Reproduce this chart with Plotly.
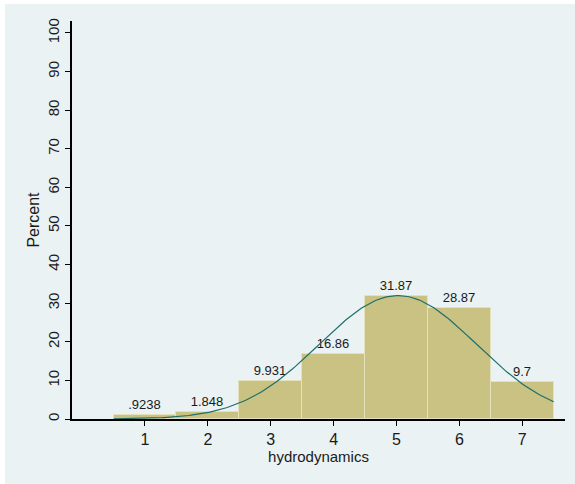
import numpy as np
import plotly.graph_objects as go

# hydrodynamics histogram (percent) with normal curve
categories = [1, 2, 3, 4, 5, 6, 7]
percent = [0.9238, 1.848, 9.931, 16.86, 31.87, 28.87, 9.7]
labels = [".9238", "1.848", "9.931", "16.86", "31.87", "28.87", "9.7"]
y_ticks = [0, 10, 20, 30, 40, 50, 60, 70, 80, 90, 100]

cat = np.array(categories, dtype=float)
w = np.array(percent) / 100
mu = (cat * w).sum() / w.sum()
sd = np.sqrt(((cat - mu) ** 2 * w).sum() / w.sum())
xs = np.linspace(0.5, 7.5, 200)
ys = 100 * np.exp(-0.5 * ((xs - mu) / sd) ** 2) / (sd * np.sqrt(2 * np.pi))

fig = go.Figure()
fig.add_trace(go.Bar(
    x=categories, y=percent, width=1,
    marker=dict(color="#C9C282", line=dict(color="#E4E1BC", width=1)),
    text=labels, textposition="outside",
    textfont=dict(size=13, color="#1a1a1a"), cliponaxis=False,
))
fig.add_trace(go.Scatter(x=xs, y=ys, mode="lines",
                         line=dict(color="#1E6E6A", width=1.2)))

fig.add_shape(type="rect", xref="paper", yref="paper",
              x0=-0.136, x1=1.03, y0=-0.17, y1=1.043,
              fillcolor="#EAF2F3", line_width=0, layer="below")

fig.update_layout(
    width=575, height=484,
    margin=dict(l=72, r=10, t=21, b=65),
    paper_bgcolor="white", plot_bgcolor="white",
    showlegend=False, bargap=0,
    font=dict(family="Liberation Sans, Arial", size=14, color="#1a1a1a"),
)
fig.update_xaxes(
    range=[-0.16, 7.68], tickvals=categories, ticks="outside", ticklen=5,
    tickcolor="black", showline=True, linecolor="black", linewidth=1.5,
    showgrid=False, zeroline=False, tickfont=dict(size=16), automargin=False,
    title=dict(text="hydrodynamics", standoff=0, font=dict(size=15)),
)
fig.update_yaxes(
    range=[0, 103.1], tickvals=y_ticks, ticks="outside", ticklen=5,
    tickcolor="black", showline=True, linecolor="black", linewidth=1.5,
    showgrid=True, gridcolor="#EAF2F3", gridwidth=1, zeroline=False,
    tickangle=-90, tickfont=dict(size=15), automargin=False,
    title=dict(text="Percent", standoff=2, font=dict(size=16)),
)

fig.write_html("out.html", config={"displayModeBar": False},
               post_script="document.body.style.margin='0';")
